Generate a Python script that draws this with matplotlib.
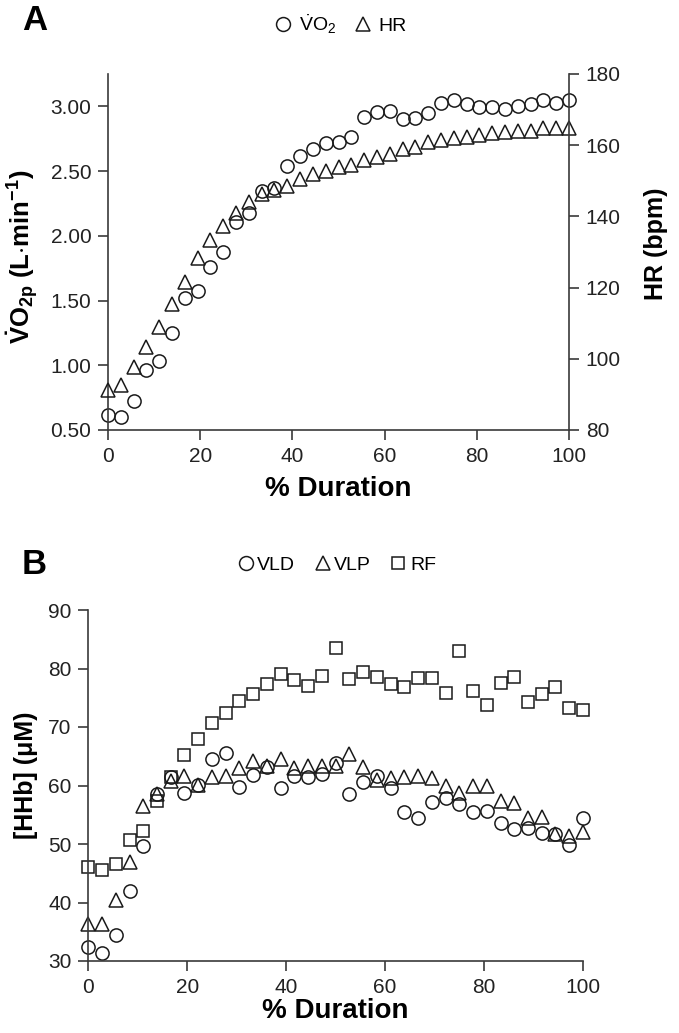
import matplotlib
matplotlib.use("Agg")
import matplotlib.pyplot as plt
from matplotlib.lines import Line2D
import numpy as np

# ---------------- data ----------------
duration = [round(i * 100 / 36, 2) for i in range(37)]  # % duration sample points

vo2 = [0.615, 0.60, 0.726, 0.96, 1.035, 1.248, 1.52, 1.575, 1.757, 1.874,
       2.108, 2.18, 2.347, 2.37, 2.54, 2.615, 2.672, 2.719, 2.724, 2.766,
       2.916, 2.957, 2.965, 2.90, 2.908, 2.947, 3.023, 3.051, 3.018, 2.994,
       2.992, 2.979, 3.00, 3.018, 3.049, 3.025, 3.049]

hr = [91.2, 92.6, 97.8, 103.4, 108.8, 115.4, 121.7, 128.2, 133.4, 137.3,
      140.9, 144.0, 146.4, 147.3, 148.5, 150.4, 151.9, 152.8, 153.8, 154.5,
      155.8, 156.6, 157.5, 158.8, 159.6, 160.9, 161.5, 161.9, 162.4, 162.9,
      163.3, 163.8, 164.1, 164.1, 164.7, 164.7, 164.9]

vld = [32.4, 31.3, 34.4, 41.9, 49.7, 58.6, 61.4, 58.8, 60.1, 64.5,
       65.6, 59.7, 61.8, 63.2, 59.5, 61.6, 61.4, 62.0, 63.8, 58.5,
       60.6, 61.6, 59.6, 55.5, 54.5, 57.2, 57.9, 56.9, 55.4, 55.7,
       53.6, 52.6, 52.7, 51.8, 51.7, 49.8, 54.5]

vlp = [36.25, 36.4, 40.5, 46.9, 56.5, 58.6, 60.8, 61.6, 60.1, 61.5,
       61.6, 63.0, 64.2, 63.4, 64.5, 63.0, 63.3, 63.3, 63.3, 65.3,
       63.1, 61.0, 61.2, 61.5, 61.7, 61.3, 59.9, 58.7, 60.0, 60.0,
       57.4, 57.0, 54.5, 54.7, 51.7, 51.4, 52.1]

rf = [46.0, 45.5, 46.6, 50.6, 52.3, 57.4, 61.4, 65.2, 67.9, 70.7,
      72.4, 74.4, 75.6, 77.3, 79.0, 78.0, 77.0, 78.7, 83.5, 78.2,
      79.4, 78.5, 77.3, 76.8, 78.4, 78.4, 75.8, 83.0, 76.2, 73.8,
      77.6, 78.6, 74.2, 75.6, 76.8, 73.2, 72.9]

x_ticks = [0, 20, 40, 60, 80, 100]
vo2_ticks = [0.50, 1.00, 1.50, 2.00, 2.50, 3.00]
hr_ticks = [80, 100, 120, 140, 160, 180]
hhb_ticks = [30, 40, 50, 60, 70, 80, 90]

# ---------------- style ----------------
plt.rcParams['mathtext.fontset'] = 'custom'
plt.rcParams['mathtext.rm'] = 'Liberation Sans'
plt.rcParams['mathtext.it'] = 'Liberation Sans:italic'
plt.rcParams['mathtext.bf'] = 'Liberation Sans:bold'

TICKFONT = ['Liberation Sans Narrow', 'Liberation Sans', 'DejaVu Sans']
LABELFONT = ['Liberation Sans', 'DejaVu Sans']
AX_COLOR = '#3a3a3a'
MK_COLOR = '#1a1a1a'
W, H = 679, 1033

fig = plt.figure(figsize=(W / 100, H / 100), dpi=100)

def style_axis(ax, sides):
    for s in ['left', 'right', 'top', 'bottom']:
        ax.spines[s].set_visible(s in sides)
        ax.spines[s].set_color(AX_COLOR)
        ax.spines[s].set_linewidth(1.2)
    ax.tick_params(direction='out', length=7, width=1.2, color=AX_COLOR,
                   labelsize=15, labelcolor='#222222', pad=5)
    for lab in ax.get_xticklabels() + ax.get_yticklabels():
        lab.set_family(TICKFONT)

mk = dict(linestyle='none', markerfacecolor='none', markeredgecolor=MK_COLOR,
          markeredgewidth=1.1, clip_on=False)

# ---------------- panel A ----------------
axA = fig.add_axes([108 / W, 1 - 430 / H, 461 / W, 356 / H])
axA.set_xlim(0, 100)
axA.set_ylim(0.5, 3.25)
axA.set_xticks(x_ticks)
axA.set_yticks(vo2_ticks)
axA.set_yticklabels([f"{v:.2f}" for v in vo2_ticks])
axA2 = axA.twinx()
axA2.set_ylim(80, 180)
axA2.set_yticks(hr_ticks)

axA.plot(duration, vo2, marker='o', markersize=9.5, **mk)
axA2.plot(duration, hr, marker='^', markersize=9.7, **mk)

style_axis(axA, ['left', 'bottom'])
style_axis(axA2, ['right'])

axA.set_xlabel('% Duration', fontsize=20, fontweight='bold', family=LABELFONT)
axA.xaxis.label.set_va('center')
axA.xaxis.set_label_coords(0.5, (430 - 489) / 356)
axA.set_ylabel(r'$\mathbf{\dot{V}O_{2p}}$ $\mathbf{(L{\cdot}min^{-1})}$',
               fontsize=18.5, family=LABELFONT)
axA.yaxis.label.set_va('center')
axA.yaxis.set_label_coords((23 - 108) / 461, (430 - 257) / 356)
axA2.set_ylabel('HR (bpm)', fontsize=18, fontweight='bold', family=LABELFONT,
                rotation=90)
axA2.yaxis.label.set_va('center')
axA2.yaxis.set_label_coords((656 - 108) / 461, (430 - 244) / 356)

hA = [Line2D([], [], marker='o', markersize=10, **mk),
      Line2D([], [], marker='^', markersize=10, **mk)]
fig.legend(hA, [r'$\dot{\mathrm{V}}\mathrm{O}_2$', 'HR'], loc='center',
           bbox_to_anchor=(340 / W, 1 - 24 / H), ncol=2, frameon=False,
           handletextpad=0.3, columnspacing=0.9, handlelength=1.0,
           prop={'family': TICKFONT, 'size': 14})

fig.text(22 / W, 1 - 21 / H, 'A', fontsize=25, fontweight='bold',
         family=LABELFONT, va='center', ha='left')

# ---------------- panel B ----------------
axB = fig.add_axes([88.3 / W, 1 - 961 / H, 494.7 / W, 351 / H])
axB.set_xlim(0, 100)
axB.set_ylim(30, 90)
axB.set_xticks(x_ticks)
axB.set_yticks(hhb_ticks)

axB.plot(duration, rf, marker='s', markersize=8.8, **mk)
axB.plot(duration, vlp, marker='^', markersize=9.7, **mk)
axB.plot(duration, vld, marker='o', markersize=9.5, **mk)

style_axis(axB, ['left', 'bottom'])

axB.set_xlabel('% Duration', fontsize=20, fontweight='bold', family=LABELFONT)
axB.xaxis.label.set_va('center')
axB.xaxis.set_label_coords(0.5, (961 - 1011) / 351)
axB.set_ylabel('[HHb] (μM)', fontsize=18, fontweight='bold', family=LABELFONT)
axB.yaxis.label.set_va('center')
axB.yaxis.set_label_coords((26 - 88.3) / 494.7, (961 - 775) / 351)

hB = [Line2D([], [], marker='o', markersize=10, **mk),
      Line2D([], [], marker='^', markersize=10, **mk),
      Line2D([], [], marker='s', markersize=9, **mk)]
fig.legend(hB, ['VLD', 'VLP', 'RF'], loc='center',
           bbox_to_anchor=(336 / W, 1 - 565 / H), ncol=3, frameon=False,
           handletextpad=0.1, columnspacing=0.9, handlelength=1.0,
           prop={'family': TICKFONT, 'size': 14})

fig.text(22 / W, 1 - 565 / H, 'B', fontsize=25, fontweight='bold',
         family=LABELFONT, va='center', ha='left')

fig.savefig('out.png', dpi=100)
